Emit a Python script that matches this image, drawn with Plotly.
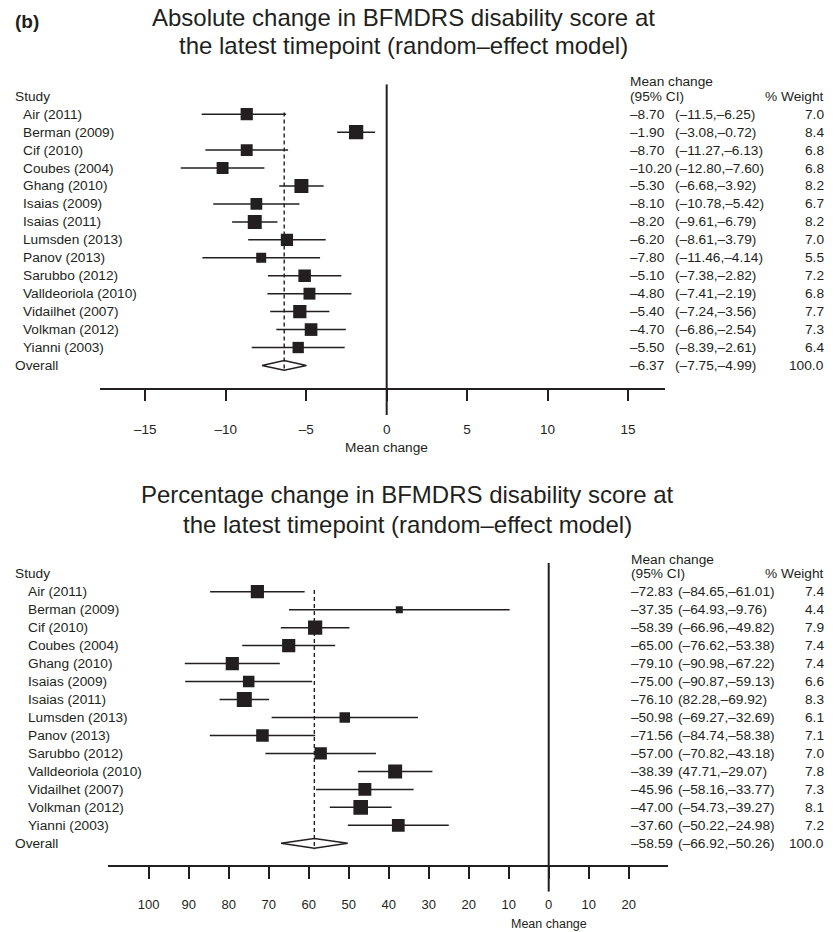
import plotly.graph_objects as go

W, H = 834, 932


def px(x):
    return x / W


def py(y):
    return 1 - y / H


# ---------------- data ----------------
studies = ["Air (2011)", "Berman (2009)", "Cif (2010)", "Coubes (2004)", "Ghang (2010)",
           "Isaias (2009)", "Isaias (2011)", "Lumsden (2013)", "Panov (2013)", "Sarubbo (2012)",
           "Valldeoriola (2010)", "Vidailhet (2007)", "Volkman (2012)", "Yianni (2003)"]

abs_mean = [-8.70, -1.90, -8.70, -10.20, -5.30, -8.10, -8.20, -6.20, -7.80, -5.10, -4.80, -5.40, -4.70, -5.50]
abs_lo = [-11.5, -3.08, -11.27, -12.80, -6.68, -10.78, -9.61, -8.61, -11.46, -7.38, -7.41, -7.24, -6.86, -8.39]
abs_hi = [-6.25, -0.72, -6.13, -7.60, -3.92, -5.42, -6.79, -3.79, -4.14, -2.82, -2.19, -3.56, -2.54, -2.61]
abs_w = [7.0, 8.4, 6.8, 6.8, 8.2, 6.7, 8.2, 7.0, 5.5, 7.2, 6.8, 7.7, 7.3, 6.4]
abs_ci_text = ["(–11.5,–6.25)", "(–3.08,–0.72)", "(–11.27,–6.13)", "(–12.80,–7.60)", "(–6.68,–3.92)",
               "(–10.78,–5.42)", "(–9.61,–6.79)", "(–8.61,–3.79)", "(–11.46,–4.14)", "(–7.38,–2.82)",
               "(–7.41,–2.19)", "(–7.24,–3.56)", "(–6.86,–2.54)", "(–8.39,–2.61)"]
abs_overall_mean, abs_overall_lo, abs_overall_hi = -6.37, -7.75, -4.99
abs_overall_ci_text = "(–7.75,–4.99)"

pct_mean = [-72.83, -37.35, -58.39, -65.00, -79.10, -75.00, -76.10, -50.98, -71.56, -57.00, -38.39, -45.96, -47.00, -37.60]
pct_lo = [-84.65, -64.93, -66.96, -76.62, -90.98, -90.87, -82.28, -69.27, -84.74, -70.82, -47.71, -58.16, -54.73, -50.22]
pct_hi = [-61.01, -9.76, -49.82, -53.38, -67.22, -59.13, -69.92, -32.69, -58.38, -43.18, -29.07, -33.77, -39.27, -24.98]
pct_w = [7.4, 4.4, 7.9, 7.4, 7.4, 6.6, 8.3, 6.1, 7.1, 7.0, 7.8, 7.3, 8.1, 7.2]
pct_ci_text = ["(–84.65,–61.01)", "(–64.93,–9.76)", "(–66.96,–49.82)", "(–76.62,–53.38)", "(–90.98,–67.22)",
               "(–90.87,–59.13)", "(82.28,–69.92)", "(–69.27,–32.69)", "(–84.74,–58.38)", "(–70.82,–43.18)",
               "(47.71,–29.07)", "(–58.16,–33.77)", "(–54.73,–39.27)", "(–50.22,–24.98)"]
pct_overall_mean, pct_overall_lo, pct_overall_hi = -58.59, -66.92, -50.26
pct_overall_ci_text = "(–66.92,–50.26)"
overall_weight = 100.0

abs_ticks = [-15, -10, -5, 0, 5, 10, 15]
abs_ticktext = ["–15", "–10", "–5", "0", "5", "10", "15"]
pct_ticks = [-100, -90, -80, -70, -60, -50, -40, -30, -20, -10, 0, 10, 20]
pct_ticktext = ["100", "90", "80", "70", "60", "50", "40", "30", "20", "10", "0", "10", "20"]

title_top = ["Absolute change in BFMDRS disability score at", "the latest timepoint (random–effect model)"]
title_bot = ["Percentage change in BFMDRS disability score at", "the latest timepoint (random–effect model)"]

# ---------------- style ----------------
INK = "#231F20"
FONT = "Liberation Sans, Arial, Helvetica, sans-serif"
SMALL = 13.7


def fmt(v):
    s = f"{abs(v):.2f}"
    return ("–" + s) if v < 0 else s


fig = go.Figure()
annotations = []


def ann(text, x, y, xref="paper", yref="paper", xanchor="left", size=SMALL, bold=False):
    annotations.append(dict(
        text=("<b>%s</b>" % text) if bold else text, x=x, y=y, xref=xref, yref=yref,
        xanchor=xanchor, yanchor="middle", showarrow=False,
        font=dict(family=FONT, size=size, color=INK)))


def add_panel(xa, ya, mean, lo, hi, w, ci_text, ov_mean, ov_lo, ov_hi, ov_ci,
              size_k, size_c, name_x, ci_x, mean_x, wt_x, header_py):
    n = len(mean)
    ov_row = n
    # dashed overall line
    fig.add_trace(go.Scatter(x=[ov_mean, ov_mean], y=[-0.1, ov_row + 0.33], mode="lines",
                             line=dict(color=INK, width=1.4, dash="4px,3px"),
                             xaxis=xa, yaxis=ya, hoverinfo="skip", showlegend=False))
    # CI lines
    xs, ys = [], []
    for i in range(n):
        xs += [lo[i], hi[i], None]
        ys += [i, i, None]
    fig.add_trace(go.Scatter(x=xs, y=ys, mode="lines", line=dict(color=INK, width=1.5),
                             xaxis=xa, yaxis=ya, hoverinfo="skip", showlegend=False))
    # boxes
    fig.add_trace(go.Scatter(x=mean, y=list(range(n)), mode="markers",
                             marker=dict(symbol="square", color=INK, opacity=1,
                                         size=[size_k * v + size_c for v in w],
                                         line=dict(width=0)),
                             xaxis=xa, yaxis=ya, hoverinfo="skip", showlegend=False))
    # overall diamond
    dh = 0.27
    fig.add_trace(go.Scatter(x=[ov_lo, ov_mean, ov_hi, ov_mean, ov_lo],
                             y=[ov_row, ov_row - dh, ov_row, ov_row + dh, ov_row],
                             mode="lines", line=dict(color=INK, width=1.5),
                             xaxis=xa, yaxis=ya, hoverinfo="skip", showlegend=False))
    # texts
    yr = ya
    for i in range(n):
        ann(studies[i], px(name_x), i, yref=yr)
        ann(fmt(mean[i]), px(mean_x), i, yref=yr)
        ann(ci_text[i], px(ci_x), i, yref=yr)
        ann(f"{w[i]:.1f}", px(wt_x), i, yref=yr, xanchor="right")
    ann("Overall", px(13), ov_row, yref=yr)
    ann(fmt(ov_mean), px(mean_x), ov_row, yref=yr)
    ann(ov_ci, px(ci_x), ov_row, yref=yr)
    ann(f"{overall_weight:.1f}", px(wt_x), ov_row, yref=yr, xanchor="right")
    ann("Study", px(13), -1.0, yref=yr)
    ann("Mean change", px(mean_x), py(header_py))
    ann("(95% CI)", px(mean_x), -1.0, yref=yr)
    ann("% Weight", px(wt_x), -1.0, yref=yr, xanchor="right")


# ---- top panel ----
top_yrange = [16.76, -1.666]
add_panel("x", "y", abs_mean, abs_lo, abs_hi, abs_w, abs_ci_text,
          abs_overall_mean, abs_overall_lo, abs_overall_hi, abs_overall_ci_text,
          1.48, 1.85, 21, 673, 627.5, 825.5, 81.7)
fig.add_trace(go.Scatter(x=[0, 0], y=top_yrange, mode="lines", line=dict(color=INK, width=2),
                         xaxis="x", yaxis="y", hoverinfo="skip", showlegend=False))

# ---- bottom panel ----
bot_yrange = [16.694, -1.614]
add_panel("x2", "y2", pct_mean, pct_lo, pct_hi, pct_w, pct_ci_text,
          pct_overall_mean, pct_overall_lo, pct_overall_hi, pct_overall_ci_text,
          2.05, -2.0, 26, 676, 628.7, 825.7, 559.3)
fig.add_trace(go.Scatter(x=[0, 0], y=bot_yrange, mode="lines", line=dict(color=INK, width=2),
                         xaxis="x2", yaxis="y2", hoverinfo="skip", showlegend=False))

# titles
ann("(b)", px(13), py(21.7), size=19, bold=True)
ann(title_top[0], px(403), py(17.5), xanchor="center", size=24)
ann(title_top[1], px(403), py(45), xanchor="center", size=24)
ann(title_bot[0], px(407), py(494), xanchor="center", size=24)
ann(title_bot[1], px(407), py(524), xanchor="center", size=24)
# axis titles
ann("Mean change", 0, py(447.3), xref="x", xanchor="center", size=13.7)
ann("Mean change", 0, py(924), xref="x2", xanchor="center", size=12.5)

axis_common = dict(showline=True, linecolor=INK, linewidth=2, ticks="outside",
                   tickcolor=INK, tickwidth=2, showgrid=False, zeroline=False,
                   tickfont=dict(family=FONT, size=13.5, color=INK), fixedrange=True)

fig.update_layout(
    width=W, height=H, margin=dict(l=0, r=0, t=0, b=0),
    paper_bgcolor="white", plot_bgcolor="white", showlegend=False,
    xaxis=dict(domain=[px(100), px(665)], range=[-17.82, 17.30], anchor="free",
               position=py(389.3), tickmode="array", tickvals=abs_ticks,
               ticktext=abs_ticktext, ticklen=11, ticklabelstandoff=16, **axis_common),
    yaxis=dict(domain=[py(415), py(84.3)], range=top_yrange, visible=False, anchor="x",
               fixedrange=True),
    xaxis2=dict(domain=[px(107.7), px(668.3)], range=[-110.25, 29.9], anchor="free",
                position=py(865.5), tickmode="array", tickvals=pct_ticks,
                ticktext=pct_ticktext, ticklen=12, ticklabelstandoff=15,
                **{**axis_common, "tickfont": dict(family=FONT, size=13, color=INK)}),
    yaxis2=dict(domain=[py(891.7), py(562.7)], range=bot_yrange, visible=False, anchor="x2",
                fixedrange=True),
    annotations=annotations,
)

fig.write_html("out.html", config={"displayModeBar": False},
               post_script="document.body.style.margin='0';")
